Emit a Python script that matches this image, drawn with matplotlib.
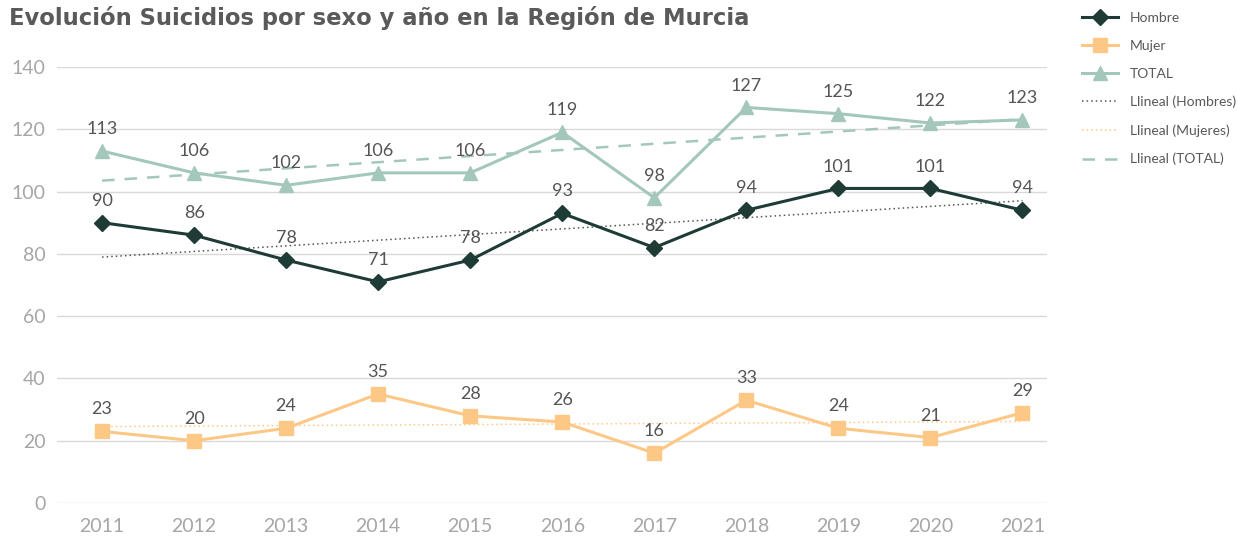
import numpy as np
import matplotlib
matplotlib.use('Agg')
import matplotlib.pyplot as plt
from matplotlib import transforms

years = ['2011', '2012', '2013', '2014', '2015', '2016', '2017', '2018', '2019', '2020', '2021']
hombre = [90, 86, 78, 71, 78, 93, 82, 94, 101, 101, 94]
mujer = [23, 20, 24, 35, 28, 26, 16, 33, 24, 21, 29]
total = [113, 106, 102, 106, 106, 119, 98, 127, 125, 122, 123]

c_hombre = '#1f3b35'
c_mujer = '#fdc886'
c_total = '#a4c7bc'

plt.rcParams['font.family'] = ['Lato', 'DejaVu Sans']

fig = plt.figure(figsize=(12.38, 5.4), dpi=100)
ax = fig.add_axes([0.046, 0.0685, 0.8, 0.8075])

x = np.arange(len(years))

ax.plot(x, hombre, color=c_hombre, lw=2.2, marker='D', ms=8, label='Hombre', zorder=4)
ax.plot(x, mujer, color=c_mujer, lw=2.2, marker='s', ms=10, label='Mujer', zorder=4)
ax.plot(x, total, color=c_total, lw=2.2, marker='^', ms=10, label='TOTAL', zorder=4)

# linear trend lines (like Excel "Lineal")
for vals, col, ls, lw, name in [(hombre, '#555555', (0, (1, 2)), 1.1, 'Llineal (Hombres)'),
                                (mujer, c_mujer, (0, (1, 2)), 1.1, 'Llineal (Mujeres)'),
                                (total, c_total, (0, (5, 4)), 1.8, 'Llineal (TOTAL)')]:
    k, b = np.polyfit(x, vals, 1)
    ax.plot(x, k * x + b, color=col, ls=ls, lw=lw, label=name, zorder=3)

# data labels
for series in (hombre, mujer, total):
    for xi, v in zip(x, series):
        ax.annotate(str(v), (xi, v), xytext=(0, 10), textcoords='offset points',
                    ha='center', va='bottom', fontsize=13, color='#555555', zorder=5)

ax.set_ylim(0, 140)
ax.set_yticks(range(0, 141, 20))
ax.set_xlim(-0.49, 10.27)
ax.set_xticks(x)
ax.set_xticklabels(years)
# last label sits a bit to the right in the original
lab = ax.get_xticklabels()[-1]
lab.set_transform(lab.get_transform() + transforms.ScaledTranslation(0.2, 0, fig.dpi_scale_trans))

ax.grid(axis='y', color='#d9d9d9', lw=1)
ax.set_axisbelow(True)
for s in ax.spines.values():
    s.set_visible(False)
ax.tick_params(length=0, labelsize=14, labelcolor='#a6a6a6')
ax.tick_params(axis='x', pad=11)
ax.tick_params(axis='y', pad=8)

fig.text(0.007, 0.966, 'Evolución Suicidios por sexo y año en la Región de Murcia',
         fontsize=16.3, fontweight='bold', color='#5a5a5a', va='center',
         family=['DejaVu Sans'])

ax.legend(loc='upper left', bbox_to_anchor=(1.022, 1.155), frameon=False,
          fontsize=10, labelcolor='#595959', handlelength=2.6, handletextpad=0.9,
          labelspacing=1.15)

fig.savefig('out.png', dpi=100)
